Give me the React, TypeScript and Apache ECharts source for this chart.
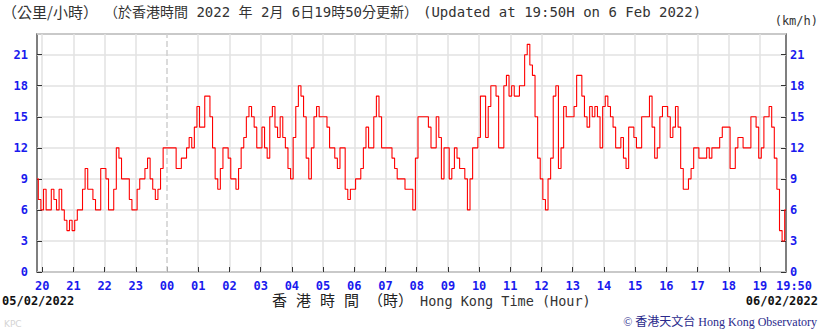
import React, { useEffect, useRef } from 'react';
import * as echarts from 'echarts';

// 5-minute wind speed readings (km/h), starting 19:50 on 05/02/2022, ending 19:50 on 06/02/2022
const speeds: number[] = [
  9, 7, 6, 8, 6, 6, 8, 7, 6, 8,
  6, 5, 4, 5, 4, 5, 6, 6, 8, 10,
  8, 8, 7, 6, 6, 10, 10, 9, 6, 6,
  8, 12, 11, 9, 9, 9, 7, 6, 6, 8,
  9, 9, 10, 11, 9, 8, 7, 8, 10, 12,
  12, 12, 12, 12, 10, 10, 11, 11, 12, 13,
  12, 14, 16, 14, 14, 17, 17, 15, 12, 9,
  8, 10, 12, 12, 11, 9, 9, 8, 10, 12,
  13, 15, 16, 15, 14, 12, 12, 14, 12, 11,
  15, 16, 14, 13, 15, 13, 12, 10, 9, 13,
  16, 18, 17, 15, 11, 9, 12, 15, 16, 15,
  15, 15, 14, 12, 12, 11, 10, 12, 12, 8,
  7, 8, 8, 9, 9, 10, 12, 14, 12, 12,
  15, 17, 15, 12, 12, 12, 12, 11, 10, 9,
  9, 9, 8, 8, 8, 6, 11, 15, 15, 15,
  15, 14, 12, 12, 15, 13, 9, 12, 12, 9,
  10, 12, 11, 10, 10, 9, 6, 9, 12, 12,
  13, 17, 17, 13, 16, 18, 18, 17, 12, 12,
  18, 19, 17, 18, 17, 17, 18, 18, 21, 22,
  20, 19, 15, 11, 9, 7, 6, 9, 11, 17,
  18, 10, 12, 16, 15, 15, 15, 16, 19, 19,
  17, 15, 14, 16, 15, 16, 15, 12, 16, 17,
  16, 15, 14, 12, 12, 13, 11, 10, 14, 14,
  13, 12, 12, 15, 15, 15, 17, 14, 11, 12,
  15, 16, 16, 15, 13, 14, 16, 14, 10, 8,
  8, 9, 10, 12, 12, 11, 11, 11, 12, 11,
  12, 12, 12, 13, 14, 14, 14, 10, 10, 12,
  13, 13, 12, 12, 12, 15, 15, 14, 11, 12,
  15, 15, 16, 14, 11, 8, 4, 3, 6,
];

const startMinute = 19 * 60 + 50;
const stepMinutes = 5;
const times: string[] = speeds.map((_, k) => {
  const m = (startMinute + k * stepMinutes) % 1440;
  const hh = String(Math.floor(m / 60)).padStart(2, '0');
  const mm = String(m % 60).padStart(2, '0');
  return `${hh}:${mm}`;
});

const yMin = 0;
const yMax = 23;
const yInterval = 3;

const titleUnitZh = '（公里/小時）';
const titleUpdateZh = '（於香港時間 2022 年 2月 6日19時50分更新）';
const titleUpdateEn = '(Updated at 19:50H on 6 Feb 2022)';
const unitEn = '(km/h)';
const dateStart = '05/02/2022';
const dateEnd = '06/02/2022';
const axisNameZh = '香 港 時 間 （時）';
const axisNameEn = 'Hong Kong Time (Hour)';
const credit = '© 香港天文台 Hong Kong Observatory';
const initials = 'KPC';

const isHour = (v: string) => v.endsWith(':00');
const lastIdx = times.length - 1;

export default function App() {
  const ref = useRef<HTMLDivElement>(null);
  useEffect(() => {
    if (!ref.current) return;
    const chart = echarts.init(ref.current, undefined, { renderer: 'svg' });
    const labelStyle = {
      color: '#1a1aee',
      fontFamily: 'DejaVu Sans Mono',
      fontWeight: 'bold' as const,
      fontSize: 12,
    };
    const yAxisBase = {
      type: 'value' as const,
      min: yMin,
      max: yMax,
      interval: yInterval,
      axisLine: { show: false },
      axisTick: { show: true, inside: true, length: 5, lineStyle: { color: '#333', width: 1 } },
    };
    chart.setOption({
      animation: false,
      backgroundColor: '#ffffff',
      grid: {
        left: 37,
        right: 34,
        top: 34,
        bottom: 60,
        show: true,
        borderColor: '#555',
        borderWidth: 1.5,
        backgroundColor: '#ffffff',
      },
      xAxis: {
        type: 'category',
        data: times,
        boundaryGap: false,
        axisLine: { show: false },
        axisTick: {
          show: true,
          inside: true,
          length: 5,
          interval: (i: number, v: string) => isHour(v),
          lineStyle: { color: '#333' },
        },
        axisLabel: {
          ...labelStyle,
          margin: 8,
          interval: (i: number, v: string) => isHour(v) || i === lastIdx,
          formatter: (v: string, i: number) => (i === lastIdx ? `{e|${v}}` : v.slice(0, 2)),
          rich: { e: { ...labelStyle, padding: [0, 0, 0, 16] } },
        },
        splitLine: {
          show: true,
          interval: (i: number, v: string) => isHour(v) && v !== '00:00',
          lineStyle: { color: '#e2e2e2', width: 1.5 },
        },
      },
      yAxis: [
        {
          ...yAxisBase,
          position: 'left',
          axisLabel: { ...labelStyle, margin: 9, showMaxLabel: false },
          splitLine: { show: true, lineStyle: { color: '#e2e2e2', width: 1.5 } },
        },
        {
          ...yAxisBase,
          position: 'right',
          axisLabel: { ...labelStyle, margin: 4, showMaxLabel: false },
          splitLine: { show: false },
        },
      ],
      series: [
        {
          type: 'line',
          data: speeds,
          step: 'middle',
          symbol: 'none',
          lineStyle: { color: '#ff0000', width: 1.1 },
          markLine: {
            silent: true,
            symbol: ['none', 'none'],
            label: { show: false },
            lineStyle: { color: '#d0d0d0', type: 'dashed', width: 1.5 },
            data: [{ xAxis: '00:00' }],
          },
        },
      ],
      graphic: [
        { type: 'text', left: 2, top: 4, style: { text: titleUnitZh, font: '15px "Noto Sans CJK TC"', fill: '#333' } },
        { type: 'text', left: 104, top: 5, style: { text: titleUpdateZh, font: '14px "DejaVu Sans Mono", "Noto Sans CJK TC"', fill: '#333' } },
        { type: 'text', left: 423, top: 5, style: { text: titleUpdateEn, font: '14px "DejaVu Sans Mono"', fill: '#333' } },
        { type: 'text', right: 2, top: 15, style: { text: unitEn, font: '12px "DejaVu Sans Mono"', fill: '#333' } },
        { type: 'text', left: 2, top: 295, style: { text: dateStart, font: 'bold 12px "DejaVu Sans Mono"', fill: '#111' } },
        { type: 'text', right: 2, top: 295, style: { text: dateEnd, font: 'bold 12px "DejaVu Sans Mono"', fill: '#111' } },
        { type: 'text', left: 272, top: 293, style: { text: axisNameZh, font: '15px "DejaVu Sans Mono", "Noto Sans CJK TC"', fill: '#222' } },
        { type: 'text', left: 420, top: 294, style: { text: axisNameEn, font: '13.5px "DejaVu Sans Mono"', fill: '#333' } },
        { type: 'text', left: 4, top: 319, style: { text: initials, font: '9px "DejaVu Sans"', fill: '#d4d4d4' } },
        { type: 'text', right: 3, top: 316, style: { text: credit, font: '12px "Liberation Serif", "Noto Sans CJK TC"', fill: '#2a2a8c' } },
      ],
    });
    return () => chart.dispose();
  }, []);
  return <div ref={ref} style={{ position: 'absolute', left: 0, top: 0, width: 820, height: 332 }} />;
}
